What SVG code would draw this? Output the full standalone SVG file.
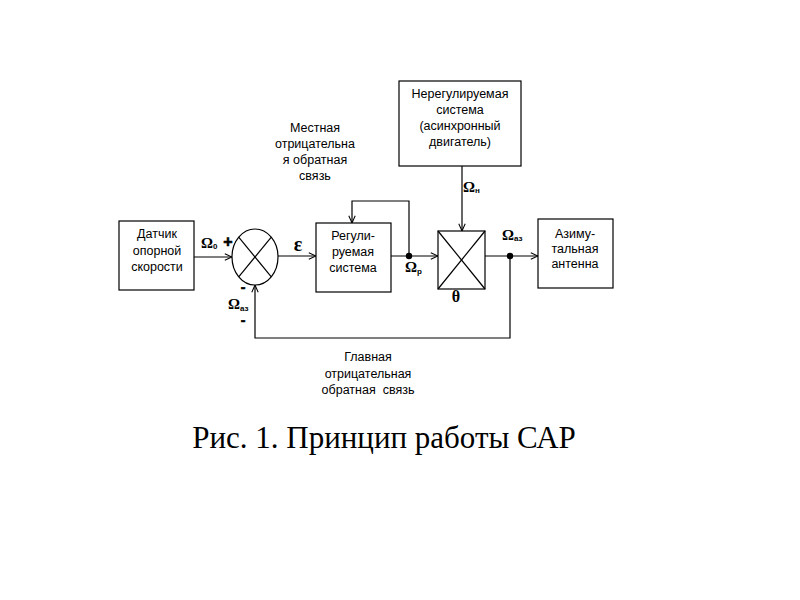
<svg xmlns="http://www.w3.org/2000/svg" width="800" height="600" viewBox="0 0 800 600">
<defs>
<marker id="arr" viewBox="0 0 10 10" refX="10" refY="5" markerWidth="8" markerHeight="8" markerUnits="userSpaceOnUse" orient="auto">
<path d="M1,1 L10,5 L1,9" fill="none" stroke="#000" stroke-width="1.3"/>
</marker>
<style>
.box{fill:#fff;stroke:#000;stroke-width:1.2}
.ln{fill:none;stroke:#000;stroke-width:1.2}
.t{font-family:"Liberation Sans",Arial,sans-serif;font-size:12.5px;fill:#000;text-anchor:middle}
.sym{font-family:"Liberation Serif","Times New Roman",serif;font-weight:bold;fill:#000}
.sgn{font-family:"Liberation Sans",Arial,sans-serif;font-weight:bold;fill:#000;stroke:#000;stroke-width:0.6;text-anchor:middle}
.sub{font-family:"Liberation Sans",Arial,sans-serif;font-weight:bold;font-size:8px}
.cap{font-family:"Liberation Serif","Times New Roman",serif;font-size:31px;fill:#000;text-anchor:middle}
</style>
</defs>
<rect width="800" height="600" fill="#fff"/>

<g id="connectors">
<line class="ln" x1="194" y1="257" x2="232" y2="257" marker-end="url(#arr)"/>
<line class="ln" x1="278" y1="256" x2="316" y2="256" marker-end="url(#arr)"/>
<line class="ln" x1="391" y1="256" x2="438" y2="256" marker-end="url(#arr)"/>
<polyline class="ln" points="409,256 409,201 352,201 352,223" marker-end="url(#arr)"/>
<line class="ln" x1="462" y1="166" x2="462" y2="231" marker-end="url(#arr)"/>
<line class="ln" x1="485" y1="256" x2="538" y2="256" marker-end="url(#arr)"/>
<polyline class="ln" points="510,256 510,338 255,338 255,285" marker-end="url(#arr)"/>
<circle cx="409" cy="256" r="3.2" fill="#000"/>
<circle cx="510" cy="256" r="3.2" fill="#000"/>
</g>

<g id="sensor">
<rect class="box" x="119" y="221" width="75" height="69"/>
<text class="t" x="157" y="238">Датчик</text>
<text class="t" x="157" y="255">опорной</text>
<text class="t" x="157" y="271">скорости</text>
</g>

<g id="comparator">
<ellipse class="box" cx="255" cy="257" rx="23" ry="28"/>
<line class="ln" x1="238.7" y1="237.2" x2="271.3" y2="276.8"/>
<line class="ln" x1="271.3" y1="237.2" x2="238.7" y2="276.8"/>
</g>

<g id="regulated">
<rect class="box" x="316" y="223" width="75" height="69"/>
<text class="t" x="353" y="240">Регули-</text>
<text class="t" x="353" y="256">руемая</text>
<text class="t" x="353" y="272">система</text>
</g>

<g id="multiplier">
<rect class="box" x="438" y="231" width="47" height="58"/>
<line class="ln" x1="438" y1="231" x2="485" y2="289"/>
<line class="ln" x1="485" y1="231" x2="438" y2="289"/>
</g>

<g id="unregulated">
<rect class="box" x="399" y="81" width="122" height="85"/>
<text class="t" x="460" y="98">Нерегулируемая</text>
<text class="t" x="460" y="114">система</text>
<text class="t" x="460" y="130">(асинхронный</text>
<text class="t" x="460" y="146">двигатель)</text>
</g>

<g id="antenna">
<rect class="box" x="538" y="219" width="75" height="69"/>
<text class="t" x="575" y="238">Азиму-</text>
<text class="t" x="575" y="253">тальная</text>
<text class="t" x="575" y="268">антенна</text>
</g>

<g id="labels">
<text class="t" x="315" y="132">Местная</text>
<text class="t" x="315" y="148">отрицательна</text>
<text class="t" x="315" y="164">я обратная</text>
<text class="t" x="315" y="180">связь</text>

<text class="t" x="368" y="361">Главная</text>
<text class="t" x="368" y="378">отрицательная</text>
<text class="t" x="368" y="394" xml:space="preserve">обратная  связь</text>

<text class="sym" x="201" y="248" font-size="15">Ω<tspan class="sub" font-size="9" dy="1">0</tspan></text>
<text class="sgn" x="228" y="247" font-size="16">+</text>
<text class="sym" x="298" y="251" font-size="20" text-anchor="middle">ε</text>
<text class="sgn" x="243" y="292" font-size="14">-</text>
<text class="sym" x="228" y="309" font-size="15">Ω<tspan class="sub" dy="2">аз</tspan></text>
<text class="sgn" x="243" y="325" font-size="14">-</text>
<text class="sym" x="405" y="272" font-size="15">Ω<tspan class="sub" font-size="9" dy="2">р</tspan></text>
<text class="sym" x="456" y="302" font-size="16" text-anchor="middle">θ</text>
<text class="sym" x="502" y="240" font-size="15">Ω<tspan class="sub" dy="1">аз</tspan></text>
<text class="sym" x="463" y="192" font-size="15">Ω<tspan class="sub" dy="1">н</tspan></text>

<text class="cap" x="384" y="448">Рис. 1. Принцип работы САР</text>
</g>
</svg>
